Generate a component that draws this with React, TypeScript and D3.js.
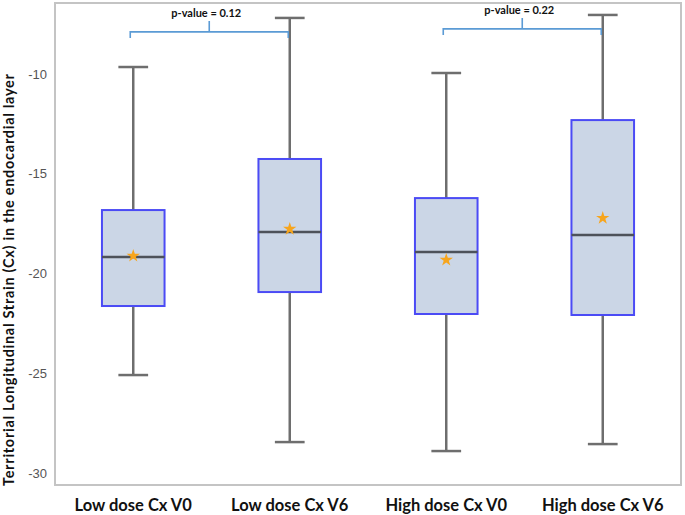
import React from "react";
import * as d3 from "d3";

const categories = ["Low dose Cx V0", "Low dose Cx V6", "High dose Cx V0", "High dose Cx V6"];
const whiskerLow = [-25.09, -28.45, -28.9, -28.55];
const q1Values = [-21.63, -20.93, -22.03, -22.08];
const medianValues = [-19.17, -17.92, -18.92, -18.07];
const q3Values = [-16.82, -14.26, -16.22, -12.31];
const whiskerHigh = [-9.65, -7.19, -9.95, -7.04];
const meanValues = [-19.12, -17.77, -19.32, -17.22];
const yTicks = [-10, -15, -20, -25, -30];
const comparisons = [
  { from: 0, to: 1, level: -7.89, label: "p-value = 0.12" },
  { from: 2, to: 3, level: -7.74, label: "p-value = 0.22" },
];
const yTitle = "Territorial Longitudinal Strain (Cx) in the endocardial layer";

const W = 685;
const H = 515;
const frame = { left: 55, top: 3, right: 681, bottom: 485 };

export default function App() {
  const x = d3.scaleBand<string>().domain(categories).range([frame.left, frame.right]).paddingInner(0).paddingOuter(0);
  const y = d3.scaleLinear().domain([-10, -30]).range([74, 473]);
  const cx = (i: number) => (x(categories[i]) as number) + x.bandwidth() / 2;
  const boxW = x.bandwidth() * 0.4;
  const capW = x.bandwidth() * 0.19;
  const star = d3.symbol().type(d3.symbolStar).size(55)();
  const font = "Lato, 'Liberation Sans', Arial, sans-serif";

  return (
    <svg width={W} height={H} style={{ position: "absolute", left: 0, top: 0, background: "#fff" }} fontFamily={font}>
      <rect x={frame.left} y={frame.top} width={frame.right - frame.left} height={frame.bottom - frame.top} fill="#fff" stroke="#c4c4c4" strokeWidth={2} />
      {yTicks.map((t) => (
        <text key={t} x={47} y={y(t)} dy="0.35em" textAnchor="end" fontSize={13} fill="#555" fontFamily="'Liberation Sans', Arial, sans-serif">
          {String(t)}
        </text>
      ))}
      <text
        transform={`translate(14, 280) rotate(-90)`}
        textAnchor="middle"
        fontSize={14.5}
        fontWeight="bold"
        fill="#111"
        textLength={412}
        lengthAdjust="spacing"
      >
        {yTitle}
      </text>
      {categories.map((c, i) => {
        const c0 = cx(i);
        return (
          <g key={c}>
            <line x1={c0} x2={c0} y1={y(whiskerHigh[i])} y2={y(q3Values[i])} stroke="#6e6e6e" strokeWidth={2.5} />
            <line x1={c0} x2={c0} y1={y(q1Values[i])} y2={y(whiskerLow[i])} stroke="#6e6e6e" strokeWidth={2.5} />
            <line x1={c0 - capW / 2} x2={c0 + capW / 2} y1={y(whiskerHigh[i])} y2={y(whiskerHigh[i])} stroke="#6e6e6e" strokeWidth={2.5} />
            <line x1={c0 - capW / 2} x2={c0 + capW / 2} y1={y(whiskerLow[i])} y2={y(whiskerLow[i])} stroke="#6e6e6e" strokeWidth={2.5} />
            <rect x={c0 - boxW / 2} y={y(q3Values[i])} width={boxW} height={y(q1Values[i]) - y(q3Values[i])} fill="#cbd6e6" stroke="#4b4bf5" strokeWidth={2} />
            <line x1={c0 - boxW / 2} x2={c0 + boxW / 2} y1={y(medianValues[i])} y2={y(medianValues[i])} stroke="#4d525a" strokeWidth={2.5} />
            <path d={star as string} transform={`translate(${c0},${y(meanValues[i])})`} fill="#f7a51d" />
            <text x={c0} y={511} textAnchor="middle" fontSize={16.5} fontWeight="bold" fill="#111">
              {c}
            </text>
          </g>
        );
      })}
      {comparisons.map((b) => {
        const x1 = cx(b.from) - 3;
        const x2 = cx(b.to) - 1.5;
        const yy = y(b.level);
        const mid = (x1 + x2) / 2;
        return (
          <g key={b.label}>
            <path d={`M${x1},${yy + 6}V${yy}H${x2}V${yy + 6}M${mid},${yy}V${yy - 11}`} fill="none" stroke="#5b9bd5" strokeWidth={1.6} />
            <text x={mid - 3} y={yy - 15} textAnchor="middle" fontSize={11} fontWeight="bold" fill="#111">
              {b.label}
            </text>
          </g>
        );
      })}
    </svg>
  );
}
